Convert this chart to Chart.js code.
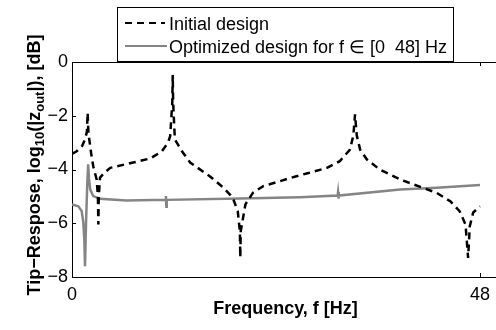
<!DOCTYPE html>
<html>
<head>
<meta charset="utf-8">
<script src="https://cdn.jsdelivr.net/npm/chart.js@4/dist/chart.umd.min.js"></script>
<style>
  html, body { margin: 0; padding: 0; background: #fff; overflow: hidden; }
  #wrap { width: 496px; height: 330px; position: relative; }
</style>
</head>
<body>
<div id="wrap"><canvas id="c"></canvas></div>
<script>
// Tip response of the beam, initial vs optimized design
const initialFreq = [0, 0.55, 1.2, 1.53, 1.75, 1.84, 1.93, 2.3, 2.5, 2.9, 3.05, 3.1, 3.15, 3.3, 3.8, 4.5, 7.2, 9.2, 10.55, 11.3, 11.55, 11.8, 11.85, 11.9, 12.1, 13.0, 13.9, 16.2, 17.8, 18.9, 19.5, 19.75, 19.8, 19.85, 20.4, 21.3, 22.5, 26.4, 27.6, 30.0, 31.5, 32.7, 33.1, 33.3, 33.5, 33.9, 34.7, 36.2, 38.6, 40.9, 42.9, 44.5, 45.6, 46.3, 46.6, 46.8, 47.2, 48.0];
const initialResp = [-3.42, -3.32, -3.12, -2.88, -2.6, -1.89, -2.65, -3.5, -3.88, -4.37, -5.0, -6.05, -5.0, -4.3, -4.12, -3.94, -3.74, -3.59, -3.33, -3.0, -2.76, -1.5, -0.48, -1.5, -2.88, -3.35, -3.74, -4.25, -4.67, -5.04, -5.55, -6.3, -7.27, -6.3, -5.3, -4.86, -4.62, -4.25, -4.15, -3.94, -3.69, -3.26, -2.73, -1.95, -2.73, -3.26, -3.63, -4.0, -4.37, -4.64, -4.87, -5.18, -5.55, -6.05, -7.29, -6.11, -5.6, -5.37];

const optimizedFreq = [0, 0.75, 1.14, 1.33, 1.45, 1.53, 1.65, 1.8, 1.9, 2.0, 2.15, 2.5, 3.3, 6.4, 11.0, 11.05, 11.1, 11.15, 19.8, 26.8, 31.25, 31.3, 31.35, 31.4, 38.6, 42.9, 48.0];
const optimizedResp = [-5.3, -5.37, -5.55, -5.97, -6.6, -7.6, -6.0, -4.5, -3.81, -4.35, -4.75, -4.99, -5.09, -5.15, -5.13, -4.99, -5.39, -5.13, -5.08, -5.03, -4.97, -4.84, -5.08, -4.97, -4.74, -4.68, -4.58];

const xTickValues = [0, 48];
const yTickValues = [-8, -6, -4, -2, 0];
const seriesLabels = ['Initial design', 'Optimized design for f \u2208 [0  48] Hz'];

const FONT = "'Liberation Sans', Arial, Helvetica, sans-serif";
Chart.defaults.font.family = FONT;
Chart.defaults.font.size = 18;
Chart.defaults.color = '#000';

const toPoints = (xs, ys) => xs.map((x, i) => ({ x: x, y: ys[i] }));

// Top spine and inward tick marks
const frame = {
  id: 'frame',
  afterDraw(chart) {
    const ctx = chart.ctx;
    const a = chart.chartArea;
    const xs = chart.scales.x, ys = chart.scales.y;
    const tl = 4;
    ctx.save();
    ctx.strokeStyle = '#000';
    ctx.lineWidth = 1;
    ctx.beginPath();
    ctx.moveTo(a.left, a.top + 0.5);
    ctx.lineTo(a.right, a.top + 0.5);
    xTickValues.forEach(v => {
      const px = Math.round(xs.getPixelForValue(v)) + 0.5;
      ctx.moveTo(px, a.bottom);
      ctx.lineTo(px, a.bottom - tl);
      ctx.moveTo(px, a.top);
      ctx.lineTo(px, a.top + tl);
    });
    yTickValues.forEach(v => {
      const py = Math.round(ys.getPixelForValue(v)) + 0.5;
      ctx.moveTo(a.left, py);
      ctx.lineTo(a.left + tl, py);
    });
    ctx.stroke();
    ctx.restore();
  }
};

// Axis titles (the y title carries subscripts) and the boxed legend
const labels = {
  id: 'labels',
  afterDraw(chart) {
    const ctx = chart.ctx;
    const a = chart.chartArea;
    ctx.save();
    ctx.fillStyle = '#000';
    ctx.font = 'bold 18px ' + FONT;
    ctx.textAlign = 'center';
    ctx.textBaseline = 'alphabetic';
    ctx.fillText('Frequency, f [Hz]', (a.left + 497) / 2 + 1, 314);

    const parts = [
      { t: 'Tip\u2212Respose, log', sub: false },
      { t: '10', sub: true },
      { t: '(|z', sub: false },
      { t: 'out', sub: true },
      { t: '|), [dB]', sub: false }
    ];
    const mainFont = 'bold 18px ' + FONT;
    const subFont = 'bold 13px ' + FONT;
    let total = 0;
    parts.forEach(p => { ctx.font = p.sub ? subFont : mainFont; p.w = ctx.measureText(p.t).width; total += p.w; });
    ctx.save();
    ctx.translate(40, 165);
    ctx.rotate(-Math.PI / 2);
    ctx.textAlign = 'left';
    let cx = -total / 2;
    parts.forEach(p => {
      ctx.font = p.sub ? subFont : mainFont;
      ctx.fillText(p.t, cx, p.sub ? 4 : 0);
      cx += p.w;
    });
    ctx.restore();

    const bx = 117.5, by = 7.5, bw = 336, bh = 54;
    ctx.fillStyle = '#fff';
    ctx.fillRect(bx, by, bw, bh);
    ctx.strokeStyle = '#000';
    ctx.lineWidth = 1;
    ctx.strokeRect(bx, by, bw, bh);
    const rows = [23, 46];
    chart.data.datasets.forEach((d, i) => {
      ctx.beginPath();
      ctx.strokeStyle = d.borderColor;
      ctx.lineWidth = 2;
      ctx.setLineDash(d.borderDash || []);
      ctx.moveTo(125, rows[i]);
      ctx.lineTo(i === 0 ? 165 : 167, rows[i]);
      ctx.stroke();
      ctx.setLineDash([]);
      ctx.fillStyle = '#000';
      ctx.font = '18px ' + FONT;
      ctx.textAlign = 'left';
      ctx.textBaseline = 'alphabetic';
      ctx.fillText(d.label, 169, rows[i] + 6.5);
    });
    ctx.restore();
  }
};

new Chart(document.getElementById('c'), {
  type: 'line',
  data: {
    datasets: [
      { label: seriesLabels[0], data: toPoints(initialFreq, initialResp), borderColor: '#000000', borderWidth: 2.5, borderDash: [7, 5], borderCapStyle: 'butt', pointRadius: 0, tension: 0, fill: false },
      { label: seriesLabels[1], data: toPoints(optimizedFreq, optimizedResp), borderColor: '#858585', borderWidth: 2.5, pointRadius: 0, tension: 0, fill: false }
    ]
  },
  options: {
    responsive: true, maintainAspectRatio: false, devicePixelRatio: 1, animation: false, events: [],
    layout: { padding: { top: 62, right: 0, left: 0, bottom: 0 } },
    plugins: { legend: { display: false }, tooltip: { enabled: false } },
    scales: {
      x: { type: 'linear', min: 0, max: 48 * 424 / 408,
        afterFit(scale) { scale.height = 53; scale.paddingLeft = 0; scale.paddingRight = 0; },
        afterBuildTicks(scale) { scale.ticks = xTickValues.map(v => ({ value: v })); },
        grid: { display: false, drawTicks: false }, border: { display: true, color: '#000', width: 1 },
        ticks: { autoSkip: false, maxRotation: 0, padding: 7, font: { size: 18 }, color: '#000' } },
      y: { type: 'linear', min: -8, max: 0,
        afterFit(scale) { scale.width = 72; },
        afterBuildTicks(scale) { scale.ticks = yTickValues.map(v => ({ value: v })); },
        grid: { display: false, drawTicks: false }, border: { display: true, color: '#000', width: 1 },
        ticks: { padding: 4, font: { size: 18 }, color: '#000', callback: v => (v < 0 ? '\u2212' + Math.abs(v) : String(v)) } }
    }
  },
  plugins: [frame, labels]
});
</script>
</body>
</html>
